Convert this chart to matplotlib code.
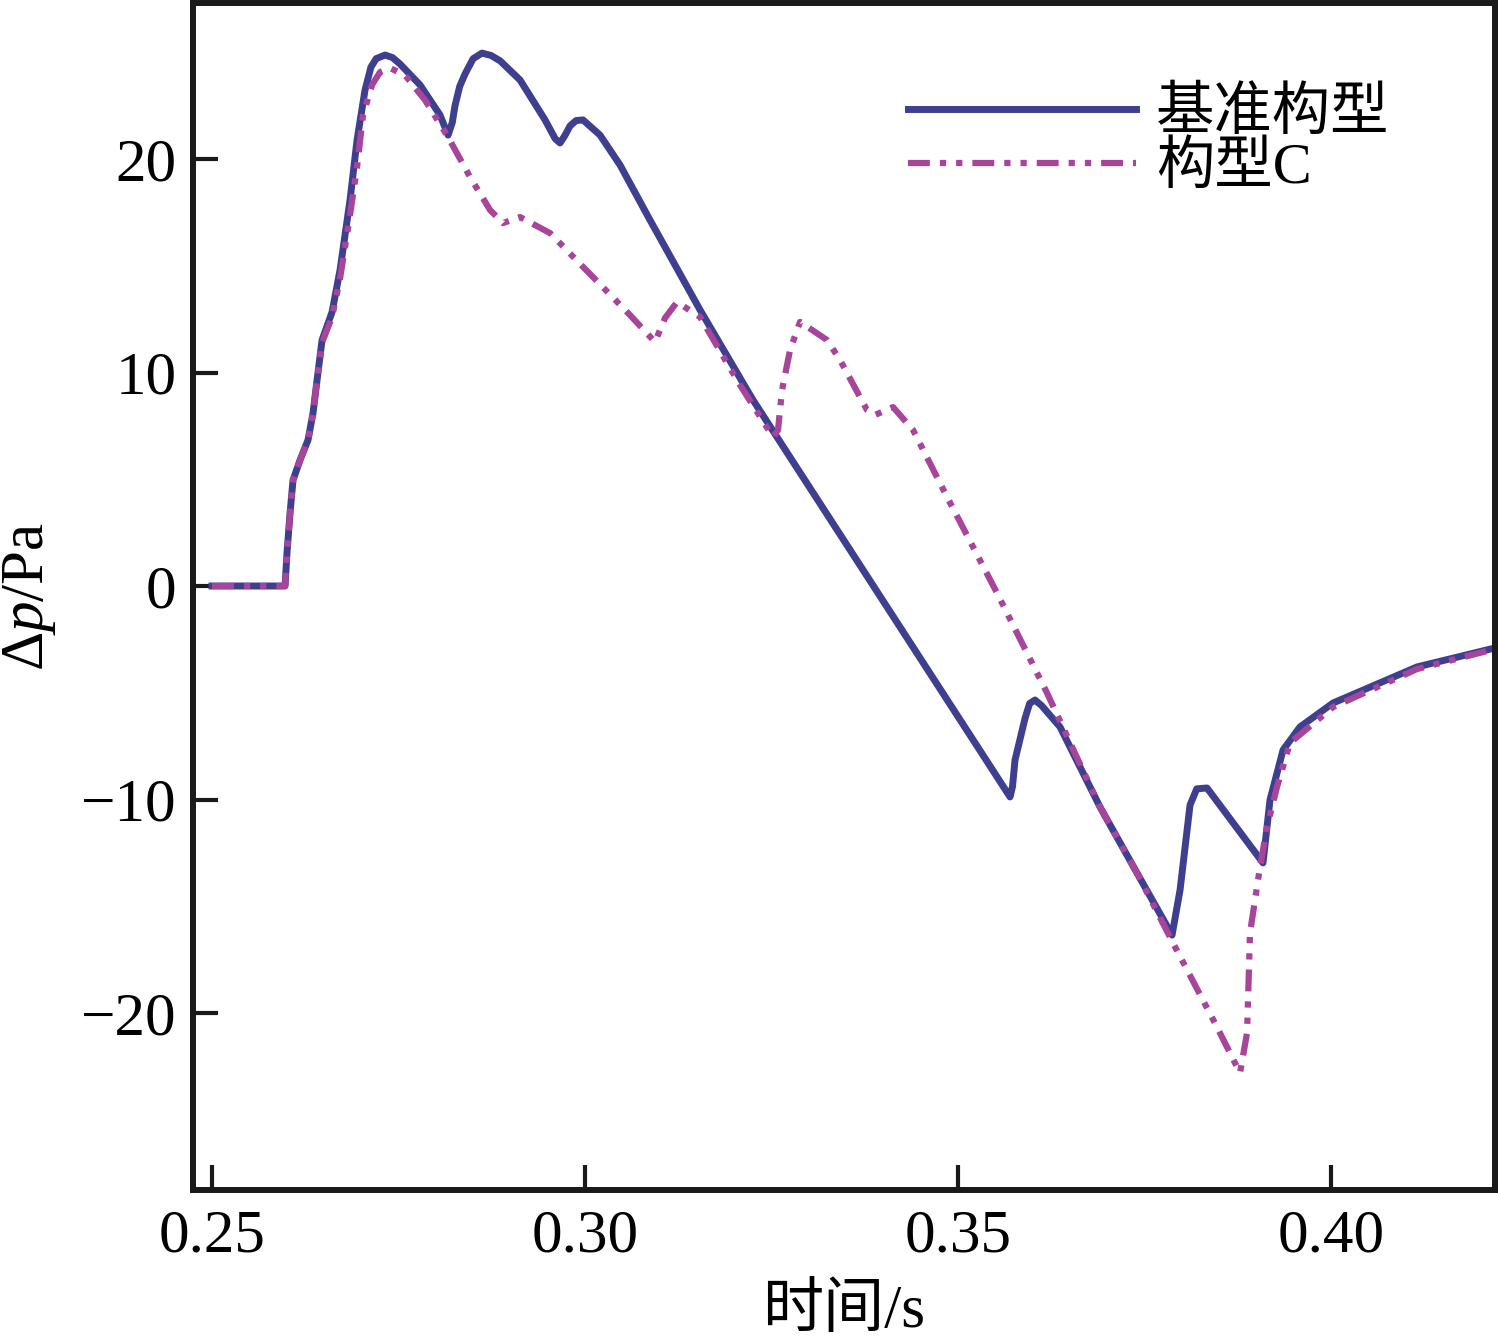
import numpy as np
import matplotlib
matplotlib.use("Agg")
from matplotlib import pyplot as plt

plt.rcParams['font.family'] = ['Liberation Serif', 'Noto Sans CJK SC']
plt.rcParams['mathtext.fontset'] = 'custom'
plt.rcParams['mathtext.rm'] = 'Liberation Serif'
plt.rcParams['mathtext.it'] = 'Liberation Serif:italic'

# Daten
t_ref = [0.2500, 0.25979, 0.26005, 0.26046, 0.26086, 0.26180, 0.26287, 0.26354,
         0.26408, 0.26475, 0.26609, 0.26716, 0.26850, 0.26944, 0.27051, 0.27130,
         0.27200, 0.27319, 0.27420, 0.27520, 0.27788, 0.28056, 0.28164, 0.28220,
         0.28257, 0.28320, 0.28391, 0.28500, 0.28619, 0.28740, 0.28861, 0.29129,
         0.29464, 0.29600, 0.29665, 0.29730, 0.29799, 0.29880, 0.29973, 0.30201,
         0.30469, 0.30871, 0.31542, 0.32252, 0.35697, 0.35730, 0.35764, 0.35898,
         0.35960, 0.36032, 0.36120, 0.36367, 0.36903, 0.37399, 0.37869, 0.37976,
         0.38110, 0.38200, 0.38338, 0.39088, 0.39182, 0.39357, 0.39584, 0.40027,
         0.41153, 0.42198]
p_ref = [0.0, 0.0, 1.55, 3.42, 4.96, 5.90, 6.84, 8.10,
         9.65, 11.52, 12.83, 14.80, 18.08, 20.89, 23.23, 24.30,
         24.70, 24.87, 24.75, 24.45, 23.47, 22.06, 21.12, 21.70,
         22.50, 23.40, 23.98, 24.70, 24.96, 24.85, 24.60, 23.70,
         21.83, 20.95, 20.75, 21.10, 21.55, 21.80, 21.83, 21.12,
         19.72, 17.14, 12.93, 8.71, -9.88, -9.40, -8.15, -6.20,
         -5.50, -5.34, -5.60, -6.60, -10.35, -13.44, -16.35, -14.24,
         -10.26, -9.50, -9.46, -12.97, -10.02, -7.68, -6.60, -5.48,
         -3.79, -2.90]

t_c = [0.2500, 0.25979, 0.26005, 0.26046, 0.26086, 0.26180, 0.26287, 0.26354,
       0.26408, 0.26475, 0.26609, 0.26716, 0.26850, 0.26944, 0.27024, 0.27145,
       0.27252, 0.27386, 0.27587, 0.27855, 0.28164, 0.28458, 0.28727, 0.28901,
       0.29129, 0.29531, 0.30107, 0.30603, 0.30938, 0.31072, 0.31233, 0.31542,
       0.32078, 0.32520, 0.32587, 0.32641, 0.32748, 0.32882, 0.33244, 0.33418,
       0.33780, 0.33887, 0.34129, 0.34397, 0.34853, 0.35523, 0.36193, 0.36903,
       0.37399, 0.37882, 0.38472, 0.38780, 0.38874, 0.38914, 0.39048, 0.39142,
       0.39276, 0.39450, 0.40027, 0.41153, 0.42198]
p_c = [0.0, 0.0, 1.55, 3.42, 4.96, 5.90, 6.84, 8.10,
       9.65, 11.40, 12.60, 14.40, 17.38, 19.63, 22.06, 23.47,
       24.07, 24.26, 23.93, 22.76, 21.03, 19.16, 17.61, 17.00,
       17.28, 16.53, 14.47, 12.69, 11.43, 12.55, 13.30, 12.60,
       9.41, 6.98, 7.31, 9.18, 11.05, 12.37, 11.52, 10.59,
       8.24, 8.01, 8.38, 7.31, 4.17, -0.33, -5.01, -10.35,
       -13.44, -16.72, -20.66, -22.81, -20.94, -16.25, -13.16, -11.29,
       -9.41, -7.35, -5.67, -3.89, -2.95]

x_ticks = [0.25, 0.30, 0.35, 0.40]
y_ticks = [-20, -10, 0, 10, 20]

fig = plt.figure(figsize=(14.98, 13.42), dpi=100)
ax = fig.add_axes([0.12884, 0.11326, 0.86916, 0.88487])

ax.plot(t_ref, p_ref, '-', color='#3f3f90', lw=5, label='基准构型', zorder=2,
        solid_joinstyle='round')
ax.plot(t_c, p_c, color='#a8459b', lw=4.5, dashes=(3.5, 1.6, 1, 1.6, 1, 1.6),
        label='构型C', zorder=3)

ax.set_xlim(0.24745, 0.42198)
ax.set_ylim(-28.29, 27.33)
ax.set_xticks(x_ticks)
ax.set_xticklabels(['%.2f' % v for v in x_ticks])
ax.set_yticks(y_ticks)

for s in ax.spines.values():
    s.set_linewidth(4.3)
    s.set_color('#1a1a1a')
ax.tick_params(direction='in', length=18, width=3, labelsize=44, color='#1a1a1a')
ax.tick_params(axis='x', pad=14)
ax.tick_params(axis='y', pad=12)

ax.set_xlabel('时间/s', fontsize=44, labelpad=14)
ax.set_ylabel(r'$\Delta\mathit{p}$/Pa', fontsize=44, labelpad=16)

ax.legend(loc='upper right', bbox_to_anchor=(0.919, 0.929), frameon=False,
          fontsize=42, handlelength=3.9, handletextpad=0.35, labelspacing=0.0,
          borderpad=0, borderaxespad=0)

plt.savefig('out.png', dpi=100)
